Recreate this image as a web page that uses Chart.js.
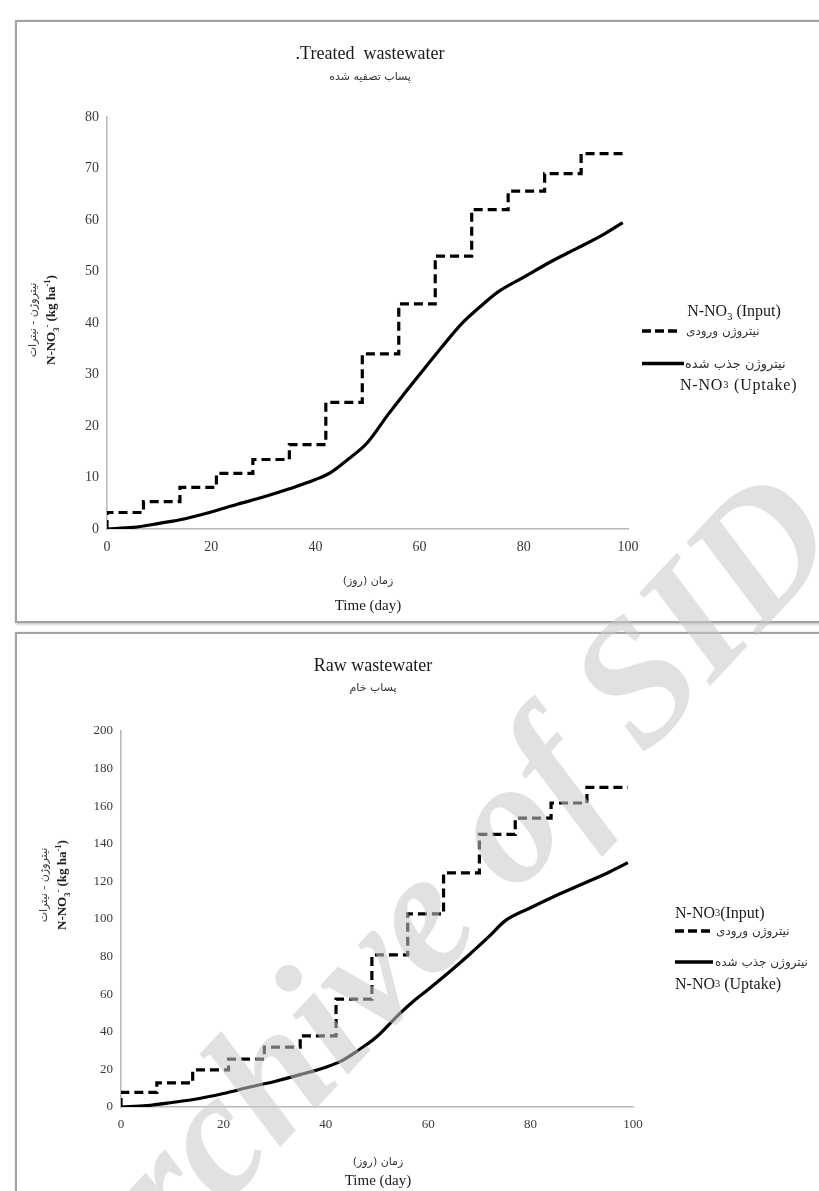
<!DOCTYPE html>
<html>
<head>
<meta charset="utf-8">
<title>N-NO3 input and uptake</title>
<script src="https://cdn.jsdelivr.net/npm/chart.js@4.4.1/dist/chart.umd.min.js"></script>
<style>
html, body { margin: 0; padding: 0; background: #fff; }
body { position: relative; width: 819px; height: 1191px; overflow: hidden; font-family: "Liberation Serif", "DejaVu Serif", serif; color: #1a1a1a; }
.panel { position: absolute; left: 15px; width: 830px; border: 2px solid #a3a3a3; box-shadow: 1px 1px 3px rgba(0,0,0,.3); background: #fff; }
#box1 { top: 20px; height: 599px; }
#box2 { top: 632px; height: 640px; }
canvas { position: absolute; }
.c { position: absolute; white-space: nowrap; transform: translate(-50%, -50%); }
.row { position: absolute; white-space: nowrap; transform: translateY(-50%); display: flex; align-items: center; }
.fa { font-family: "DejaVu Sans", sans-serif; direction: rtl; font-size: 11px; color: #333; }
.title { font-size: 18px; }
.en { font-size: 15px; }
.leg { font-size: 16px; }
.leg-fa { font-family: "DejaVu Sans", sans-serif; direction: rtl; font-size: 12px; color: #333; }
.ytitle { position: absolute; transform: translate(-50%, -50%) rotate(-90deg); text-align: center; white-space: nowrap; line-height: 18px; }
.ytitle .en { font-weight: bold; font-size: 13px; }
sub, sup { font-size: 65%; line-height: 0; }
.wm { position: absolute; left: 428px; top: 902px; transform: translate(-50%, -50%) rotate(-47deg); font: italic bold 176px "Liberation Serif", serif; color: rgba(200,200,200,.55); white-space: nowrap; pointer-events: none; z-index: 5; }
</style>
</head>
<body>

<div class="panel" id="box1"></div>
<div class="panel" id="box2"></div>

<canvas id="treated" width="802" height="598" style="left:17px;top:22px"></canvas>
<canvas id="raw" width="802" height="557" style="left:17px;top:634px"></canvas>

<!-- treated wastewater panel text -->
<div class="c title" style="left:370px;top:53px">.Treated&nbsp; wastewater</div>
<div class="c fa" style="left:370px;top:76px">پساب تصفیه شده</div>
<div class="ytitle" style="left:42px;top:320px">
  <div class="fa">نیتروژن - نیترات</div>
  <div class="en">N-NO<sub>3</sub><sup>-</sup> (kg ha<sup>-1</sup>)</div>
</div>
<div class="c fa" style="left:368px;top:580px">زمان (روز)</div>
<div class="c en" style="left:368px;top:605px">Time (day)</div>
<div class="c leg" style="left:734px;top:311px">N-NO<sub>3</sub> (Input)</div>
<div class="row" style="left:642px;top:331px">
  <svg width="38" height="6"><line x1="0" y1="3" x2="38" y2="3" stroke="#000" stroke-width="3.5" stroke-dasharray="9 4"/></svg>
  <span class="leg-fa" style="margin-left:6px">نیتروژن ورودی</span>
</div>
<div class="row" style="left:642px;top:363px">
  <svg width="42" height="6"><line x1="0" y1="3" x2="42" y2="3" stroke="#000" stroke-width="3.5"/></svg>
  <span class="leg-fa" style="margin-left:1px;font-size:13px">نیتروژن جذب شده</span>
</div>
<div class="row leg" style="left:680px;top:385px;letter-spacing:.8px">N-NO<sub>3</sub>&nbsp;(Uptake)</div>

<!-- raw wastewater panel text -->
<div class="c title" style="left:373px;top:665px">Raw wastewater</div>
<div class="c fa" style="left:373px;top:687px">پساب خام</div>
<div class="ytitle" style="left:53px;top:885px">
  <div class="fa">نیتروژن - نیترات</div>
  <div class="en">N-NO<sub>3</sub><sup>-</sup> (kg ha<sup>-1</sup>)</div>
</div>
<div class="c fa" style="left:378px;top:1161px">زمان (روز)</div>
<div class="c en" style="left:378px;top:1180px">Time (day)</div>
<div class="row leg" style="left:675px;top:913px">N-NO<sub>3</sub> (Input)</div>
<div class="row" style="left:675px;top:931px">
  <svg width="36" height="6"><line x1="0" y1="3" x2="36" y2="3" stroke="#000" stroke-width="3.5" stroke-dasharray="9 4"/></svg>
  <span class="leg-fa" style="margin-left:5px">نیتروژن ورودی</span>
</div>
<div class="row" style="left:675px;top:962px">
  <svg width="38" height="6"><line x1="0" y1="3" x2="38" y2="3" stroke="#000" stroke-width="3.5"/></svg>
  <span class="leg-fa" style="margin-left:2px">نیتروژن جذب شده</span>
</div>
<div class="row leg" style="left:675px;top:984px">N-NO<sub>3</sub>&nbsp;(Uptake)</div>

<div class="wm">Archive of SID</div>

<script>
// weekly irrigation: cumulative N applied jumps at each event
const inputDays = [0, 0, 7, 14, 21, 28, 35, 42, 49, 56, 63, 70, 77, 84, 91, 99];
const treatedInput = [0, 3.2, 5.3, 8.1, 10.8, 13.5, 16.4, 24.6, 34.0, 43.7, 53.0, 62.0, 65.6, 69.0, 72.9, 72.9];
const rawInput = [0, 7.8, 12.8, 19.7, 25.5, 31.9, 37.8, 57.4, 80.9, 102.7, 124.5, 145, 153.7, 161.7, 170, 170];

// cumulative N taken up by the crop
const uptakeDays = [0, 5, 10, 15, 20, 25, 30, 35, 40, 43, 46, 50, 54, 57, 60, 64, 68, 72, 75, 80, 85, 90, 95, 99];
const treatedUptake = [0, 0.3, 1.1, 2.0, 3.3, 4.8, 6.2, 7.8, 9.6, 11.0, 13.3, 16.8, 22.3, 26.2, 30.0, 35.0, 39.8, 43.5, 46.0, 48.9, 51.8, 54.4, 57.0, 59.5];
const rawUptake = [0, 0.7, 2.4, 4.4, 7.2, 10.5, 13.6, 17.2, 21.2, 24.4, 29.5, 37.5, 48.5, 56, 62.5, 71.5, 81, 91, 99, 106, 112.5, 118.5, 124.5, 130];

const dayTicks = [0, 20, 40, 60, 80, 100];
const treatedTicks = [0, 10, 20, 30, 40, 50, 60, 70, 80];
const rawTicks = [0, 20, 40, 60, 80, 100, 120, 140, 160, 180, 200];

function points(xs, ys) {
  return xs.map((x, i) => ({ x: x, y: ys[i] }));
}

function drawPanel(id, input, uptake, yTicks, box) {
  const tickFont = { family: 'Liberation Serif', size: box.fontSize };
  new Chart(document.getElementById(id), {
    type: 'line',
    data: {
      datasets: [{
        label: 'N-NO3 (Input)',
        data: points(inputDays, input),
        borderColor: '#000',
        borderWidth: 3.2,
        borderDash: [9, 5],
        stepped: true,
        pointRadius: 0
      }, {
        label: 'N-NO3 (Uptake)',
        data: points(uptakeDays, uptake),
        borderColor: '#000',
        borderWidth: 3.2,
        cubicInterpolationMode: 'monotone',
        pointRadius: 0
      }]
    },
    options: {
      responsive: false,
      animation: false,
      events: [],
      layout: { padding: box.padding },
      plugins: { legend: { display: false }, tooltip: { enabled: false } },
      scales: {
        x: {
          type: 'linear', min: 0, max: 100,
          afterBuildTicks: a => { a.ticks = dayTicks.map(v => ({ value: v })); },
          afterFit: s => { s.height = box.xHeight; },
          grid: { display: false, drawTicks: false },
          border: { display: true, color: '#b8b8b8', width: 1.5 },
          ticks: { padding: box.xPad, color: '#3a3a3a', font: tickFont }
        },
        y: {
          type: 'linear', min: 0, max: yTicks[yTicks.length - 1],
          afterBuildTicks: a => { a.ticks = yTicks.map(v => ({ value: v })); },
          afterFit: s => { s.width = box.yWidth; },
          grid: { display: false, drawTicks: false },
          border: { display: true, color: '#b8b8b8', width: 1.5 },
          ticks: { padding: 8, color: '#3a3a3a', font: tickFont }
        }
      }
    }
  });
}

drawPanel('treated', treatedInput, treatedUptake, treatedTicks, {
  padding: { top: 95, right: 191, bottom: 61, left: 0 },
  xHeight: 30, yWidth: 90, xPad: 10, fontSize: 14
});

drawPanel('raw', rawInput, rawUptake, rawTicks, {
  padding: { top: 97, right: 186, bottom: 54, left: 0 },
  xHeight: 30, yWidth: 104, xPad: 10, fontSize: 13
});
</script>
</body>
</html>
